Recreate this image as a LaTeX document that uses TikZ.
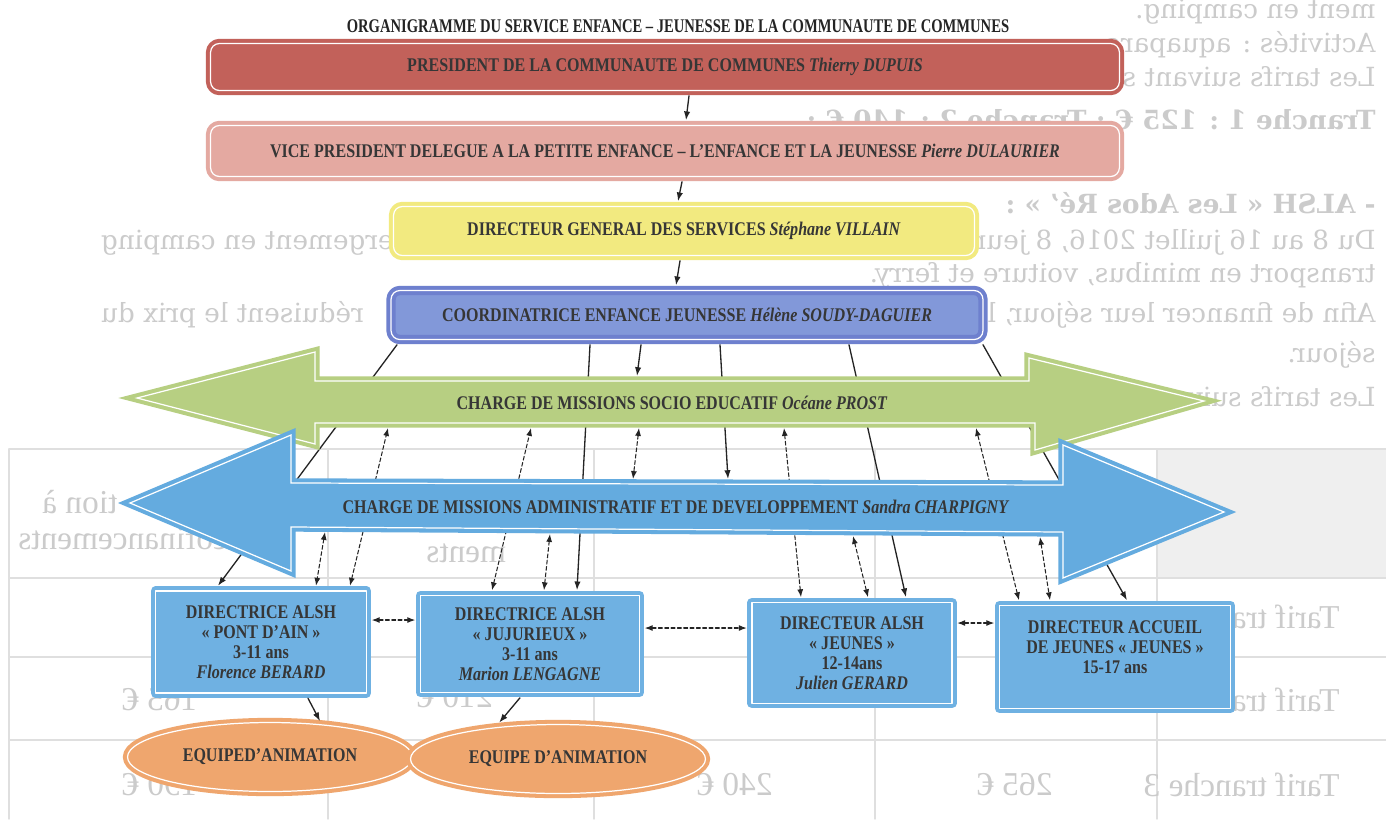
\documentclass[tikz,border=0pt]{standalone}
\usepackage{fontspec}
\setmainfont{Liberation Serif}
\newfontfamily\dosfont{DejaVu Serif}
\usetikzlibrary{arrows.meta,shapes.geometric}

\definecolor{encre}{HTML}{363636}
\definecolor{trait}{HTML}{242424}
\definecolor{rougeP}{HTML}{C2615A}
\definecolor{roseV}{HTML}{E4A9A1}
\definecolor{jauneD}{HTML}{F2EA80}
\definecolor{violetC}{HTML}{8298D9}
\definecolor{violetB}{HTML}{6E80CE}
\definecolor{vertS}{HTML}{B7CF82}
\definecolor{bleuA}{HTML}{64ABDF}
\definecolor{bleuB}{HTML}{6FB1E2}
\definecolor{orangeE}{HTML}{EFA66E}
\definecolor{verso}{HTML}{CBCBCB}
\definecolor{versol}{HTML}{DFDFDF}
\definecolor{versof}{HTML}{EFEFEF}

\newcommand{\sq}[1]{\scalebox{0.83}[1]{#1}}

\tikzset{
  txt/.style={text=encre, font=\fontsize{11}{13}\selectfont\bfseries},
  cadre/.style={txt, fill=#1, draw=#1, line width=2.3pt, double=white,
    double distance=0.7pt, inner sep=0pt, outer sep=3pt},
  bande/.style={cadre=#1, rectangle, rounded corners=5pt},
  alsh/.style={cadre=bleuB, rectangle, align=center,
    font=\fontsize{11}{11.3}\selectfont\bfseries},
  equipe/.style={cadre=orangeE, ellipse},
  fleche/.style={fill=#1, draw=#1, line width=2.3pt, double=white,
    double distance=0.7pt, line join=miter},
  lien/.style={draw=trait, line width=0.75pt, >={Latex[length=5pt,width=3.6pt]}, ->},
  lienpt/.style={draw=trait, line width=0.6pt, dash pattern=on 2.2pt off 1.4pt,
    >={Latex[length=4.5pt,width=3.4pt]}, <->},
  verso/.style={text=verso, inner sep=0pt, transform shape,
    font=\dosfont\fontsize{15}{18}\selectfont},
  versot/.style={text=verso, inner sep=0pt, transform shape,
    font=\fontsize{19}{22}\selectfont},
}

\begin{document}
\begin{tikzpicture}[x=0.02cm, y=-0.02cm, line cap=round, line join=round]
\useasboundingbox (0,0) rectangle (1386,819);
\fill[white] (0,0) rectangle (1386,819);
\clip (0,0) rectangle (1386,819);

% Chữ in ngược từ mặt sau trang
\begin{scope}[shift={(1386,0)}, xscale=-1]
  \fill[versof] (0,449) rectangle (229,578);
  \foreach \yy in {449,578,657,740}
    \draw[versol, line width=0.8pt] (0,\yy) -- (1377,\yy);
  \foreach \xx in {229,511,792,1058,1377}
    \draw[versol, line width=0.8pt] (\xx,449) -- (\xx,819);
  \node[verso, anchor=west] (v1) at (10,12) {ment en camping.};
  \node[verso, anchor=west] (v2) at (10,45) {Activités : aquaparc,};
  \node[verso, anchor=west] (v3) at (10,77) {Les tarifs suivant sont};
  \node[verso, anchor=west] (v4) at (10,122) {\bfseries Tranche 1 : 125 € ; Tranche 2 : 140 € ;};
  \node[verso, anchor=west] (v5) at (10,203) {\bfseries - ALSH « Les Ados Ré’ » :};
  \node[verso, anchor=west] (v6) at (10,242) {\hbox to 25.5cm{Du 8 au 16 juillet 2016, 8 jeunes et\hfill Hébergement en camping}};
  \node[verso, anchor=west] (v7) at (10,275) {transport en minibus, voiture et ferry.};
  \node[verso, anchor=west] (v8) at (10,315) {\hbox to 25.5cm{Afin de financer leur séjour, les\hfill réduisent le prix du}};
  \node[verso, anchor=west] (v9) at (10,355) {séjour.};
  \node[verso, anchor=west] (v10) at (10,397) {Les tarifs suivants en fonction de leur};
  \node[versot, anchor=west] (t1) at (46,617) {Tarif tranche 1};
  \node[versot, anchor=west] (t2) at (46,700) {Tarif tranche 2};
  \node[versot, anchor=west] (t3) at (46,785) {Tarif tranche 3};
  \node[versot] (p1) at (371,785) {265 €};
  \node[versot] (p2) at (651,785) {240 €};
  \node[versot] (p3) at (1226,785) {190 €};
  \node[versot] (p4) at (931,697) {210 €};
  \node[versot] (p5) at (1226,700) {165 €};
  \node[versot, anchor=east] (e1) at (960,553) {ments};
  \node[versot, anchor=east] (e2) at (1344,502) {tion à};
  \node[versot, anchor=east] (e3) at (1368,538) {cofinancements};
\end{scope}

% Tiêu đề
\node[txt, text=trait] (titre) at (678,26) {\scalebox{0.755}[1]{ORGANIGRAMME DU SERVICE ENFANCE – JEUNESSE DE LA COMMUNAUTE DE COMMUNES}};

% Các hộp phía trên
\node[bande=rougeP, minimum width=18.18cm, minimum height=0.94cm] (pres) at (665,67)
  {\sq{PRESIDENT DE LA COMMUNAUTE DE COMMUNES \textit{Thierry DUPUIS}}};
\node[bande=roseV, minimum width=18.18cm, minimum height=1.02cm] (vice) at (665,151)
  {\sq{VICE PRESIDENT DELEGUE A LA PETITE ENFANCE – L’ENFANCE ET LA JEUNESSE \textit{Pierre DULAURIER}}};
\node[bande=jauneD, minimum width=11.62cm, minimum height=0.98cm] (dg) at (684,231)
  {\sq{DIRECTEUR GENERAL DES SERVICES \textit{Stéphane VILLAIN}}};
\node[bande=violetC, draw=violetB, minimum width=11.84cm, minimum height=0.98cm] (coord) at (687,315)
  {\sq{COORDINATRICE ENFANCE JEUNESSE \textit{Hélène SOUDY-DAGUIER}}};

\draw[lien] (689,0 |- pres.south) -- (686,0 |- vice.north);
\draw[lien] (682,0 |- vice.south) -- (678,0 |- dg.north);
\draw[lien] (680,0 |- dg.south) -- (676,0 |- coord.north);

% Các hộp ALSH
\node[alsh, minimum width=4.22cm, minimum height=2.04cm] (alsh1) at (261,642)
  {\sq{DIRECTRICE ALSH}\\ \sq{« PONT D’AIN »}\\ \sq{3-11 ans}\\ \sq{\itshape Florence BERARD}};
\node[alsh, minimum width=4.38cm, minimum height=1.94cm] (alsh2) at (530,644)
  {\sq{DIRECTRICE ALSH}\\ \sq{« JUJURIEUX »}\\ \sq{3-11 ans}\\ \sq{\itshape Marion LENGAGNE}};
\node[alsh, minimum width=4.00cm, minimum height=2.02cm] (alsh3) at (852,653)
  {\sq{DIRECTEUR ALSH}\\ \sq{« JEUNES »}\\ \sq{12-14ans}\\ \sq{\itshape Julien GERARD}};
\node[alsh, minimum width=4.62cm, minimum height=2.06cm] (accueil) at (1115,657)
  {\sq{DIRECTEUR ACCUEIL}\\ \sq{DE JEUNES « JEUNES »}\\ \sq{15-17 ans}\\ \mbox{}};

% Hình elip
\node[equipe, minimum width=5.7cm, minimum height=1.38cm] (ell1) at (270,757) {\sq{EQUIPED’ANIMATION}};
\node[equipe, minimum width=5.9cm, minimum height=1.38cm] (ell2) at (558,759) {\sq{EQUIPE D’ANIMATION}};

% Điểm trên hai mũi tên lớn
\coordinate (vH1) at (637,376);
\coordinate (vB1) at (388,428);
\coordinate (vB2) at (531,428);
\coordinate (vB3) at (639,428);
\coordinate (vB4) at (784,428);
\coordinate (vB5) at (976,428);
\coordinate (bH1) at (633,479);
\coordinate (bH2) at (728,479);
\coordinate (bB1) at (325,532);
\coordinate (bB2) at (550,534);
\coordinate (bB3) at (853,536);
\coordinate (bB4) at (1040,537);

% Đường nối dài từ hộp điều phối
\draw[lien] (397,0 |- coord.south) -- (218,0 |- alsh1.north);
\draw[lien] (590,0 |- coord.south) -- (577,0 |- alsh2.north);
\draw[lien] (641,0 |- coord.south) -- (vH1);
\draw[lien] (720,0 |- coord.south) -- (bH2);
\draw[lien] (849,0 |- coord.south) -- (906,0 |- alsh3.north);
\draw[lien] (983,0 |- coord.south) -- (1127,0 |- accueil.north);

% Mũi tên xanh lá
\filldraw[fleche=vertS] (137,398) -- (315,352) -- (315,381) -- (1029,381) -- (1029,358)
  -- (1204,401) -- (1035,450) -- (1035,423) -- (315,423) -- (315,444) -- cycle;
\node[txt] (socio) at (672,403) {\sq{CHARGE DE MISSIONS SOCIO EDUCATIF \textit{Océane PROST}}};

\draw[lienpt] (350,0 |- alsh1.north) -- (vB1);
\draw[lienpt] (492,0 |- alsh2.north) -- (vB2);
\draw[lienpt] (801,0 |- alsh3.north) -- (vB4);
\draw[lienpt] (1019,0 |- accueil.north) -- (vB5);

% Mũi tên xanh dương
\filldraw[fleche=bleuA] (130,503) -- (291,435) -- (291,483) -- (1063,485) -- (1063,445)
  -- (1224,512) -- (1063,578) -- (1063,532) -- (291,527) -- (291,571) -- cycle;
\node[txt] (admin) at (676,507) {\sq{CHARGE DE MISSIONS ADMINISTRATIF ET DE DEVELOPPEMENT \textit{Sandra CHARPIGNY}}};

% Đường nối ngắn
\draw[lienpt] (vB3) -- (bH1);
\draw[lienpt] (bB1) -- (316,0 |- alsh1.north);
\draw[lienpt] (bB2) -- (544,0 |- alsh2.north);
\draw[lienpt] (bB3) -- (868,0 |- alsh3.north);
\draw[lienpt] (bB4) -- (1050,0 |- accueil.north);

\draw[lienpt] (alsh1.east |- 0,620) -- (alsh2.west |- 0,620);
\draw[lienpt] (alsh2.east |- 0,628) -- (alsh3.west |- 0,628);
\draw[lienpt] (alsh3.east |- 0,623) -- (accueil.west |- 0,623);

\draw[lien, shorten >=-2.5pt] (308,0 |- alsh1.south) -- (318,0 |- ell1.north);
\draw[lien, shorten >=-2.5pt] (520,0 |- alsh2.south) -- (502,0 |- ell2.north);
\end{tikzpicture}
\end{document}
